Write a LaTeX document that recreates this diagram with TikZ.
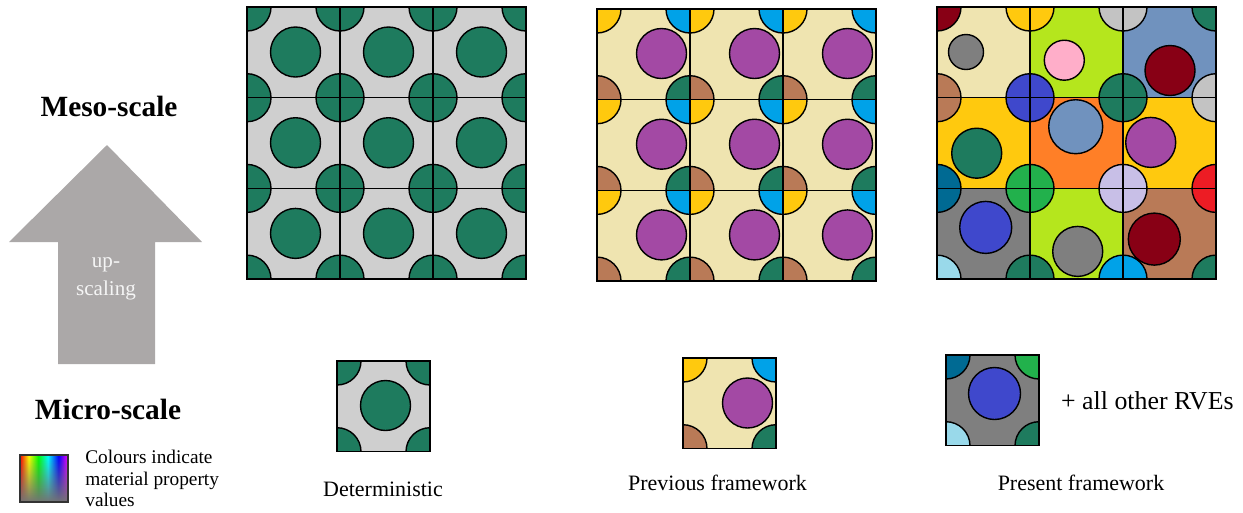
\documentclass[tikz,border=0pt]{standalone}
\usepackage{fontspec}
\setmainfont{Liberation Serif}
\usepackage{tikz}
\usetikzlibrary{positioning, fadings}
\usepackage{xcolor}

% colours of matrix and fibres
\definecolor{fgreen}{HTML}{1E7B5E}
\definecolor{matrixgray}{HTML}{CFCFCF}
\definecolor{cream}{HTML}{EFE4B0}
\definecolor{pgold}{HTML}{FFC90E}
\definecolor{pblue}{HTML}{00A2E8}
\definecolor{pbrown}{HTML}{B97A57}
\definecolor{ppurple}{HTML}{A349A4}
\definecolor{plime}{HTML}{B5E61D}
\definecolor{pbluegray}{HTML}{7092BE}
\definecolor{porange}{HTML}{FF7F27}
\definecolor{pgray}{HTML}{7F7F7F}
\definecolor{pdarkred}{HTML}{880015}
\definecolor{ppink}{HTML}{FFAEC9}
\definecolor{plightgray}{HTML}{C3C3C3}
\definecolor{pindigo}{HTML}{3F48CC}
\definecolor{pgreen}{HTML}{22B14C}
\definecolor{plavender}{HTML}{C8BFE7}
\definecolor{pred}{HTML}{ED1C24}
\definecolor{pteal}{HTML}{006A93}
\definecolor{plightblue}{HTML}{99D9EA}
\definecolor{arrowgray}{HTML}{ABA8A8}

\pgfdeclarehorizontalshading{spectrum}{100bp}{color(0bp)=(red); color(25bp)=(red);
  color(34bp)=(yellow); color(44bp)=(green); color(54bp)=(cyan); color(65bp)=(blue);
  color(75bp)=(magenta); color(100bp)=(magenta)}
\tikzfading[name=fade up, top color=transparent!100, bottom color=transparent!0]

\tikzset{
  fibre/.style={draw=black, line width=0.8pt},
  cellline/.style={draw=black, line width=0.8pt},
  scaletitle/.style={font=\fontsize{16.7}{20}\selectfont\bfseries},
  rvelabel/.style={font=\fontsize{12.5}{15}\selectfont},
  arrowtext/.style={font=\fontsize{12}{15.9}\selectfont, text=white!92!gray, align=center},
  legendtext/.style={font=\fontsize{11}{12.2}\selectfont, align=left, anchor=north west, inner sep=0pt}
}

\def\cw{93}
\def\ch{90.7}
\def\rc{24}
% one RVE: #1,#2 top left, #3 matrix, #4-#7 corner fibres (tl,tr,bl,br), #8 centre fibre, #9 its colour
\newcommand{\rvecell}[9]{%
  \begin{scope}[shift={(#1,#2)}]
    \fill[#3] (0,0) rectangle (\cw,\ch);
    \begin{scope}
      \clip (0,0) rectangle (\cw,\ch);
      \filldraw[fibre,fill=#4] (0,0) circle (\rc);
      \filldraw[fibre,fill=#5] (\cw,0) circle (\rc);
      \filldraw[fibre,fill=#6] (0,\ch) circle (\rc);
      \filldraw[fibre,fill=#7] (\cw,\ch) circle (\rc);
    \end{scope}
    \filldraw[fibre,fill=#9] #8;
  \end{scope}}

\begin{document}
\begin{tikzpicture}[x=0.02cm, y=-0.02cm]
  \useasboundingbox (0,0) rectangle (1243,512);

  % Up-scaling arrow
  \fill[arrowgray] (107,145) -- (202,242) -- (155,242) -- (155,364) -- (58,364) -- (58,242) -- (9,242) -- cycle;
  \node[arrowtext] (upscaling) at (106,279) {up-\\scaling};

  \node[scaletitle] (meso) at (109,106) {Meso-scale};
  \node[scaletitle] (micro) at (108,409) {Micro-scale};

  % Colour legend
  \shade[shading=spectrum] (20,455) rectangle (68,502);
  \fill[black!55, path fading=fade up] (20,455) rectangle (68,502);
  \draw[line width=1pt, draw=black!80] (20,455) rectangle (68,502);
  \node[legendtext] (legend) at (85,450) {Colours indicate\\material property\\values};

  % Meso-scale: deterministic
  \foreach \i in {0,1,2}
    \foreach \j in {0,1,2}
      \rvecell{247+\i*93}{7+\j*90.7}{matrixgray}{fgreen}{fgreen}{fgreen}{fgreen}{(48.5,45) circle (25)}{fgreen};
  \foreach \i in {0,1,2}
    \foreach \j in {0,1,2}
      \draw[cellline] (247+\i*93,7+\j*90.7) rectangle +(\cw,\ch);

  % Meso-scale: previous framework
  \foreach \i in {0,1,2}
    \foreach \j in {0,1,2}
      \rvecell{597+\i*93}{9+\j*90.7}{cream}{pgold}{pblue}{pbrown}{fgreen}{(64.5,44.5) circle (25)}{ppurple};
  \foreach \i in {0,1,2}
    \foreach \j in {0,1,2}
      \draw[cellline] (597+\i*93,9+\j*90.7) rectangle +(\cw,\ch);

  % Meso-scale: present framework
  \rvecell{937}{7}{cream}{pdarkred}{pgold}{pbrown}{pindigo}{(29,45) circle (17.5)}{pgray}
  \rvecell{1030}{7}{plime}{pgold}{plightgray}{pindigo}{fgreen}{(34.3,53.2) circle (20)}{ppink}
  \rvecell{1123}{7}{pbluegray}{plightgray}{fgreen}{fgreen}{plightgray}{(47,63.5) circle (25)}{pdarkred}
  \rvecell{937}{97.7}{pgold}{pbrown}{pindigo}{pteal}{pgreen}{(39.7,55.5) circle (25)}{fgreen}
  \rvecell{1030}{97.7}{porange}{pindigo}{fgreen}{pgreen}{plavender}{(45.7,29) circle (27)}{pbluegray}
  \rvecell{1123}{97.7}{pgold}{fgreen}{plightgray}{plavender}{pred}{(27.7,44.7) circle (25)}{ppurple}
  \rvecell{937}{188.4}{pgray}{pteal}{pgreen}{plightblue}{fgreen}{(48.7,39) circle (26)}{pindigo}
  \rvecell{1030}{188.4}{plime}{pgreen}{plavender}{fgreen}{pblue}{(47.7,63) circle (25)}{pgray}
  \rvecell{1123}{188.4}{pbrown}{plavender}{pred}{pblue}{fgreen}{(31.3,50.7) circle (26)}{pdarkred}
  \foreach \i in {0,1,2}
    \foreach \j in {0,1,2}
      \draw[cellline] (937+\i*93,7+\j*90.7) rectangle +(\cw,\ch);

  % Micro-scale RVEs
  \rvecell{337}{361}{matrixgray}{fgreen}{fgreen}{fgreen}{fgreen}{(48.5,44.5) circle (25)}{fgreen}
  \draw[cellline] (337,361) rectangle +(\cw,\ch);
  \rvecell{683}{358}{cream}{pgold}{pblue}{pbrown}{fgreen}{(64.5,45) circle (25)}{ppurple}
  \draw[cellline] (683,358) rectangle +(\cw,\ch);
  \rvecell{946}{355}{pgray}{pteal}{pgreen}{plightblue}{fgreen}{(48.5,38.5) circle (26)}{pindigo}
  \draw[cellline] (946,355) rectangle +(\cw,\ch);

  \node[rvelabel] (detlabel) at (383,489) {Deterministic};
  \node[rvelabel] (prevlabel) at (717.5,483) {Previous framework};
  \node[rvelabel] (preslabel) at (1081,483) {Present framework};
  \node[font=\fontsize{14.7}{17}\selectfont, anchor=west] (others) at (1055,401) {+ all other RVEs};

\end{tikzpicture}
\end{document}
